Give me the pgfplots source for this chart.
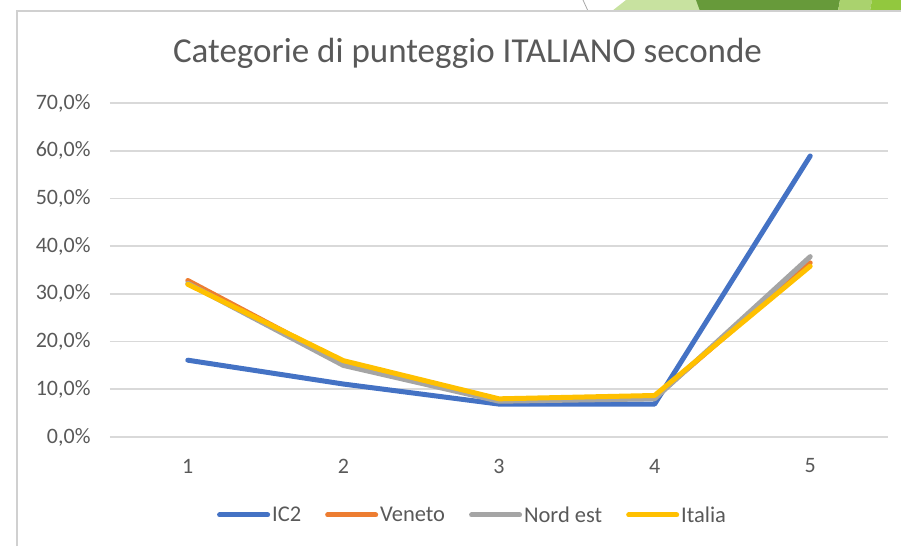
\documentclass[border=0pt]{standalone}
\usepackage{pgfplots}
\pgfplotsset{compat=1.18}
\usepackage{fontspec}
\setmainfont{Carlito}
\definecolor{cIC}{HTML}{4472C4}
\definecolor{cVen}{HTML}{ED7D31}
\definecolor{cNE}{HTML}{A5A5A5}
\definecolor{cIt}{HTML}{FFC000}
\definecolor{txt}{HTML}{595959}
\definecolor{grid}{HTML}{D9D9D9}
\definecolor{frame}{HTML}{D0D0D0}
\definecolor{gA}{HTML}{C8E2A0}
\definecolor{gB}{HTML}{679A3A}
\definecolor{gC}{HTML}{AAD26E}
\definecolor{gD}{HTML}{92C83E}
\begin{document}
\begin{tikzpicture}
\begin{axis}[
  name=ax, anchor=south west,
  scale only axis, width=778pt, height=334pt,
  xmin=0.5, xmax=5.5, ymin=0, ymax=70,
  xtick={1,2,3,4,5}, ytick={0,10,...,70},
  axis line style={draw=none},
  major tick length=0pt,
  ymajorgrids, grid style={color=grid, line width=1.6pt},
  /pgf/number format/assume math mode=true,
  tick label style={font=\fontsize{22}{26}\selectfont, text=txt},
  yticklabel={\pgfmathprintnumber[fixed,fixed zerofill,precision=1,use comma]{\tick}\%},
  yticklabel style={anchor=east, xshift=-16pt},
  xticklabel style={anchor=center, yshift=-29pt},
  legend columns=4,
  legend style={draw=none, fill=none, at={(0.466,-0.2335)}, anchor=center,
    font=\fontsize{22.5}{26}\selectfont, text=txt, inner sep=0pt,
    /tikz/every even column/.append style={column sep=22pt}},
  legend image code/.code={\draw[#1, line cap=round] (0pt,0pt) -- (48pt,0pt);},
  every axis plot/.append style={line width=5pt, line cap=round, line join=round},
  clip=false,
]
\addplot[cIC] coordinates {(1,16.1) (2,11.1) (3,6.9) (4,6.9) (5,58.9)};
\addlegendentry{IC2}
\addplot[cVen] coordinates {(1,32.8) (2,15.5) (3,7.8) (4,8.3) (5,36.5)};
\addlegendentry{Veneto}
\addplot[cNE] coordinates {(1,32.2) (2,15.0) (3,7.5) (4,8.0) (5,37.8)};
\addlegendentry{Nord est}
\addplot[cIt] coordinates {(1,32.0) (2,16.0) (3,8.0) (4,8.7) (5,35.8)};
\addlegendentry{Italia}
\end{axis}
\pgfresetboundingbox
\begin{scope}[shift={([shift={(-110pt,-109pt)}]ax.south west)}, x=1pt, y=1pt]
\useasboundingbox (0,0) rectangle (901,546);
\fill[gA] (612,535) -- (626,546) -- (700,546) -- (700,535) -- cycle;
\fill[gB] (700,535) -- (696,546) -- (840,546) -- (838,535) -- cycle;
\fill[gC] (838,535) -- (840,546) -- (872,546) -- (870,535) -- cycle;
\fill[gD] (870,535) -- (872,546) -- (901,546) -- (901,535) -- cycle;
\draw[gray!70, line width=0.8] (583,546) .. controls (585,541) .. (588,535);
\draw[frame, line width=1.5] (17,0) -- (17,535) -- (901,535);
\node[font=\fontsize{35}{40}\selectfont, text=txt] at (467.5,493) {Categorie di punteggio ITALIANO seconde};
\end{scope}
\end{tikzpicture}
\end{document}
